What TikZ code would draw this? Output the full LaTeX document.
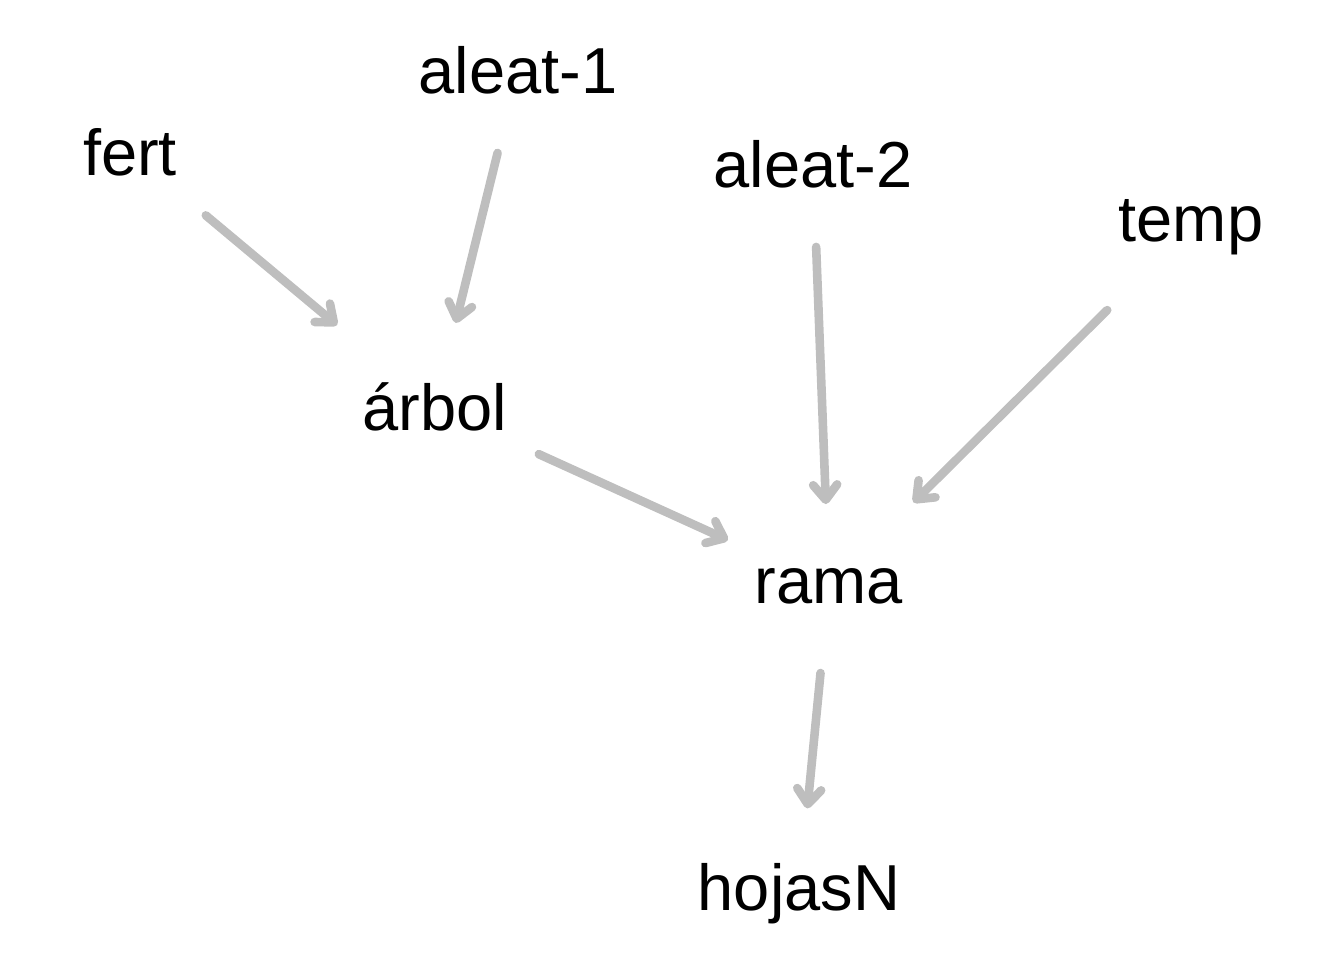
\documentclass[tikz,border=0pt]{standalone}
\usepackage{fontspec}
\setmainfont{Liberation Sans}
\usetikzlibrary{arrows.meta}
\definecolor{edgegray}{HTML}{BEBEBE}
\tikzset{
  lab/.style={inner sep=0pt, font=\fontsize{32.5}{39}\selectfont, text=black},
  edge/.style={draw=edgegray, line width=4.3pt, line cap=round, line join=round,
    -{Straight Barb[length=7.5pt, width=12pt, round]}},
}
\begin{document}
\begin{tikzpicture}[x=0.5pt, y=-0.5pt]
\useasboundingbox (0,0) rectangle (1344,960);
\node[lab] (fert) at (130,152) {fert};
\node[lab] (aleat1) at (518,70) {aleat-1};
\node[lab] (aleat2) at (813,164) {aleat-2};
\node[lab] (temp) at (1191,227) {temp};
\node[lab] (arbol) at (435,407) {árbol};
\node[lab] (rama) at (829,586) {rama};
\node[lab] (hojas) at (799,894) {hojasN};
\draw[edge, shorten <=49.4pt, shorten >=63.8pt] (fert.center) -- (arbol.center);
\draw[edge, shorten <=42.7pt, shorten >=43.3pt] (aleat1.center) -- (arbol.center);
\draw[edge, shorten <=41.5pt, shorten >=41pt] (aleat2.center) -- (rama.center);
\draw[edge, shorten <=59pt, shorten >=59.4pt] (temp.center) -- (rama.center);
\draw[edge, shorten <=57pt, shorten >=55.5pt] (arbol.center) -- (rama.center);
\draw[edge, shorten <=43.7pt, shorten >=43pt] (rama.center) -- (hojas.center);
\end{tikzpicture}
\end{document}
